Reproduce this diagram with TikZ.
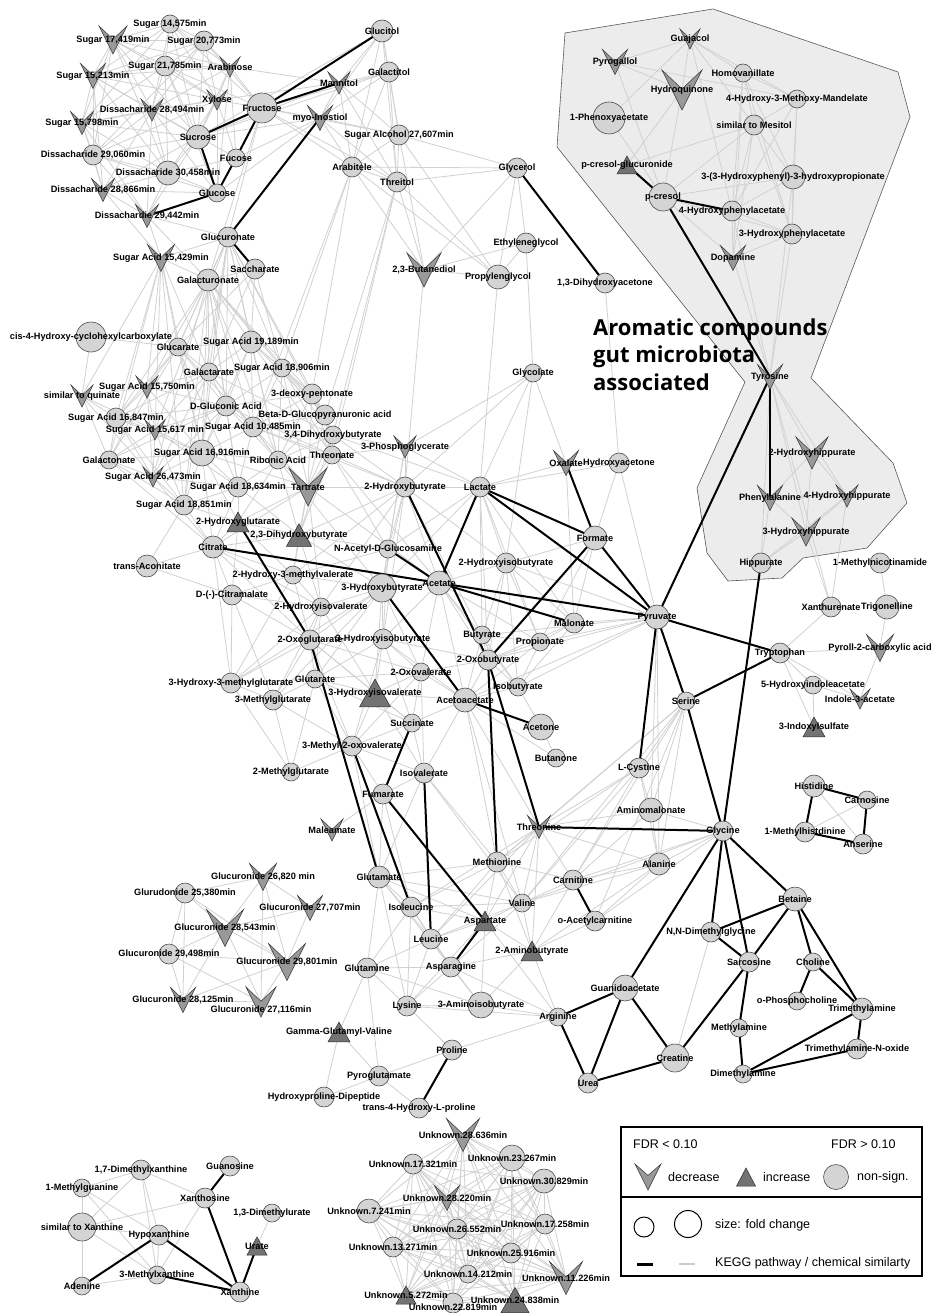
\documentclass[tikz,border=0pt]{standalone}
\usepackage{fontspec}
\newfontfamily\lblfont{Liberation Sans}
\newfontfamily\bigfont{Open Sans}
\definecolor{cfill}{gray}{0.83}
\definecolor{vfill}{gray}{0.60}
\definecolor{tfill}{gray}{0.45}
\definecolor{hullfill}{gray}{0.925}
\definecolor{gline}{gray}{0.82}

\def\clist{s14575/170/24/9/{Sugar 14,575min},s20773/204/41/10/{Sugar 20,773min},s21785/165/66/10/{Sugar 21,785min},fructose/262/108/15/{Fructose},sucrose/198/137/12/{Sucrose},fucose/236/158/9/{Fucose},d29060/93/155/10/{Dissacharide 29,060min},d30458/168/173/12/{Dissacharide 30,458min},glucose/217/193/9/{Glucose},glucuronate/228/237/10/{Glucuronate},saccharate/255/269/10/{Saccharate},galacturonate/208/280/11/{Galacturonate},glucitol/382/31/11/{Glucitol},galactitol/389/72/10/{Galactitol},sugaralc/399/135/10/{Sugar Alcohol 27,607min},arabitele/352/167/10/{Arabitele},threitol/397/182/10/{Threitol},glycerol/517/168/10/{Glycerol},ethylene/526/243/10/{Ethyleneglycol},propylene/498/277/12/{Propylenglycol},dha/605/283/10/{1,3-Dihydroxyacetone},homovan/743/73/9/{Homovanillate},hmm/797/99/9/{4-Hydroxy-3-Methoxy-Mandelate},phenoxy/609/118/16/{1-Phenoxyacetate},mesitol/754/125/10/{similar to Mesitol},hphp/793/177/12/{3-(3-Hydroxyphenyl)-3-hydroxypropionate},pcresol/663/197/14/{p-cresol},hpa4/732/211/10/{4-Hydroxyphenylacetate},hpa3/792/234/10/{3-Hydroxyphenylacetate},hippurate/761/563/10/{Hippurate},mnicot/880/563/10/{1-Methylnicotinamide},xanthurenate/831/607/10/{Xanthurenate},trigonelline/887/607/12/{Trigonelline},pyruvate/657/617/12/{Pyruvate},tryptophan/780/653/10/{Tryptophan},hydroxyacetone/619/463/10/{Hydroxyacetone},glycolate/533/373/9/{Glycolate},cis4/91/337/15/{cis-4-Hydroxy-cyclohexylcarboxylate},glucarate/178/347/9/{Glucarate},sa19189/251/342/11/{Sugar Acid 19,189min},galactarate/209/372/9/{Galactarate},sa18906/282/368/9/{Sugar Acid 18,906min},deoxypent/312/394/10/{3-deoxy-pentonate},gluconic/226/406/10/{D-Gluconic Acid},betad/325/415/10/{Beta-D-Glucopyranuronic acid},sa16847/116/418/10/{Sugar Acid 16,847min},sa10485/253/427/10/{Sugar Acid 10,485min},dhb34/333/435/9/{3,4-Dihydroxybutyrate},sa16916/202/453/13/{Sugar Acid 16,916min},galactonate/109/460/9/{Galactonate},ribonic/278/460/9/{Ribonic Acid},threonate/332/455/9/{Threonate},sa18634/238/487/10/{Sugar Acid 18,634min},sa18851/184/505/10/{Sugar Acid 18,851min},citrate/213/547/11/{Citrate},transacon/147/566/11/{trans-Aconitate},hmv/293/575/9/{2-Hydroxy-3-methylvalerate},citramalate/232/595/10/{D-(-)-Citramalate},hiv/321/607/9/{2-Hydroxyisovalerate},oxoglut/310/640/10/{2-Oxoglutarate},hbut2/405/487/10/{2-Hydroxybutyrate},lactate/480/487/10/{Lactate},formate/595/538/12/{Formate},nacetyl/388/549/9/{N-Acetyl-D-Glucosamine},hib2/506/563/10/{2-Hydroxyisobutyrate},acetate/439/583/12/{Acetate},hbut3/382/588/14/{3-Hydroxybutyrate},malonate/574/623/10/{Malonate},butyrate/482/635/9/{Butyrate},propionate/540/642/9/{Propionate},hib3/383/639/10/{3-Hydroxyisobutyrate},oxobut/488/660/10/{2-Oxobutyrate},oxoval/421/672/9/{2-Oxovalerate},glutarate/315/679/9/{Glutarate},acetoacetate/465/700/12/{Acetoacetate},isobutyrate/518/687/9/{Isobutyrate},succinate/412/723/9/{Succinate},acetone/541/727/13/{Acetone},hmg/231/683/10/{3-Hydroxy-3-methylglutarate},mglut3/273/700/10/{3-Methylglutarate},mglut2/291/772/9/{2-Methylglutarate},mov/352/746/10/{3-Methyl-2-oxovalerate},butanone/556/758/9/{Butanone},isovalerate/424/773/10/{Isovalerate},fumarate/383/794/10/{Fumarate},methionine/497/862/10/{Methionine},glutamate/379/877/11/{Glutamate},carnitine/573/880/10/{Carnitine},valine/522/903/9/{Valine},isoleucine/411/907/10/{Isoleucine},oacetyl/595/921/10/{o-Acetylcarnitine},leucine/431/939/10/{Leucine},glutamine/367/968/10/{Glutamine},asparagine/451/967/10/{Asparagine},serine/686/701/9/{Serine},hiaa/813/685/9/{5-Hydroxyindoleacetate},cystine/639/768/10/{L-Cystine},histidine/814/786/11/{Histidine},carnosine/867/800/9/{Carnosine},aminomal/651/810/12/{Aminomalonate},glycine/723/831/10/{Glycine},mhis/805/832/10/{1-Methylhistdinine},anserine/863/844/10/{Anserine},alanine/659/864/11/{Alanine},betaine/795/899/12/{Betaine},dmg/711/932/10/{N,N-Dimethylglycine},sarcosine/749/962/10/{Sarcosine},choline/813/962/9/{Choline},guanido/625/988/13/{Guanidoacetate},phoschol/797/1001/9/{o-Phosphocholine},tma/862/1009/11/{Trimethylamine},methylamine/739/1028/9/{Methylamine},tmao/857/1049/10/{Trimethylamine-N-oxide},creatine/675/1058/14/{Creatine},dimethylamine/743/1074/9/{Dimethylamine},lysine/407/1006/10/{Lysine},aib3/481/1005/13/{3-Aminoisobutyrate},arginine/558/1017/9/{Arginine},proline/452/1050/10/{Proline},pyroglut/379/1076/10/{Pyroglutamate},hpdip/324/1097/10/{Hydroxyproline-Dipeptide},hyp/419/1108/10/{trans-4-Hydroxy-L-proline},urea/588/1083/10/{Urea},g25380/185/893/10/{Glurudonide 25,380min},g29498/169/954/10/{Glucuronide 29,498min},dmx17/141/1170/10/{1,7-Dimethylxanthine},guanosine/230/1166/10/{Guanosine},mguan/82/1188/9/{1-Methylguanine},xanthosine/205/1198/10/{Xanthosine},dmu13/272/1213/9/{1,3-Dimethylurate},simxan/82/1227/14/{similar to Xanthine},hypoxanthine/159/1235/10/{Hypoxanthine},mx3/157/1275/9/{3-Methylxanthine},adenine/82/1286/9/{Adenine},xanthine/240/1292/10/{Xanthine},u23267/512/1158/13/{Unknown.23.267min},u17321/413/1164/10/{Unknown.17.321min},u30829/544/1181/12/{Unknown.30.829min},u7241/369/1211/12/{Unknown.7.241min},u17258/545/1224/10/{Unknown.17.258min},u26552/457/1229/10/{Unknown.26.552min},u13271/393/1247/10/{Unknown.13.271min},u25916/511/1253/10/{Unknown.25.916min},u14212/468/1274/9/{Unknown.14.212min},u22819/453/1303/10/{}}

\def\vlist{s17419/113/40/28/{Sugar 17,419min},arabinose/230/67/20/{Arabinose},s15213/93/76/25/{Sugar 15,213min},xylose/217/100/20/{Xylose},d28494/152/110/22/{Dissacharide 28,494min},s15798/82/123/23/{Sugar 15,798min},d28866/103/190/23/{Dissacharide 28,866min},d29442/147/216/23/{Dissachardie 29,442min},sa15429/161/258/27/{Sugar Acid 15,429min},mannitol/339/83/22/{Mannitol},myo/320/118/25/{myo-Inostiol},butanediol/424/270/34/{2,3-Butanediol},guajacol/690/39/20/{Guajacol},pyrogallol/615/62/25/{Pyrogallol},hydroquinone/682/90/40/{Hydroquinone},dopamine/733/258/25/{Dopamine},tyrosine/770/377/25/{Tyrosine},hipp2/812/453/32/{2-Hydroxyhippurate},phenylalanine/770/498/25/{Phenylalanine},hipp4/847/496/22/{4-Hydroxyhippurate},hipp3/806/532/28/{3-Hydroxyhippurate},pyroll/880/648/27/{Pyroll-2-carboxylic acid},sa15750/147/387/22/{Sugar Acid 15,750min},quinate/82/396/22/{similar to quinate},sa15617/155/430/20/{Sugar Acid 15,617 min},sa26473/153/477/20/{Sugar Acid 26,473min},tartrate/308/487/38/{Tartrate},phosphoglyc/405/447/22/{3-Phosphoglycerate},oxalate/566/463/25/{Oxalate},maleamate/332/830/22/{Maleamate},threonine/539/827/23/{Threonine},indole/860/699/20/{Indole-3-acetate},g26820/263/877/27/{Glucuronide 26,820 min},g27707/310/908/25/{Glucuronide 27,707min},g28543/225/928/37/{Glucuronide 28,543min},g29801/287/962/37/{Glucuronide 29,801min},g28125/183/1000/25/{Glucuronide 28,125min},g27116/261/1002/30/{},u28636/463/1135/33/{Unknown.28.636min},u28220/447/1198/25/{Unknown.28.220min},u11226/566/1278/33/{Unknown.11.226min}}

\def\tlist{pcg/627/165/20/{p-cresol-glucuronide},hg2/238/522/22/{2-Hydroxyglutarate},dhb23/299/535/25/{2,3-Dihydroxybutyrate},hiv3/375/693/31/{3-Hydroxyisovalerate},aspartate/485/921/22/{Aspartate},amb2/532/951/22/{2-Aminobutyrate},indoxyl/814/727/22/{3-Indoxylsulfate},ggv/339/1032/22/{Gamma-Glutamyl-Valine},urate/257/1246/20/{Urate},u5272/406/1295/20/{Unknown.5.272min},u24838/515/1300/28/{Unknown.24.838min}}

\def\ulist{u28636,u23267,u17321,u30829,u28220,u7241,u17258,u26552,u13271,u25916,u14212,u11226,u5272,u24838,u22819}

\def\glistA{s14575/s17419,s14575/s20773,s14575/s21785,s14575/arabinose,s14575/s15213,s14575/d28494,s14575/xylose,s14575/fructose,s14575/sucrose,s14575/s15798,s20773/s17419,s20773/s21785,s20773/arabinose,s20773/xylose,s20773/fructose,s20773/s15213,s20773/d28494,s20773/sucrose,s20773/d29060,s17419/s21785,s17419/s15213,s17419/s15798,s17419/d28494,s17419/d29060,s17419/d30458,s17419/sucrose,s17419/xylose,s17419/arabinose,s21785/s15213,s21785/arabinose,s21785/xylose,s21785/d28494,s21785/s15798,s21785/sucrose,s21785/fructose,s21785/d30458,s21785/glucose,arabinose/xylose,arabinose/fructose,arabinose/sucrose,arabinose/d28494,arabinose/s15213,arabinose/glucose,arabinose/fucose,arabinose/mannitol,s15213/s15798,s15213/d28494,s15213/d29060,s15213/d30458,s15213/d28866,s15213/xylose,s15213/sucrose,xylose/fructose,xylose/sucrose,xylose/d28494,xylose/glucose,xylose/fucose,xylose/s15798,xylose/d29060,xylose/d30458,d28494/s15798,d28494/sucrose,d28494/d29060,d28494/d30458,d28494/d28866,d28494/glucose,d28494/d29442,d28494/fucose,s15798/d29060,s15798/d30458,s15798/d28866,s15798/sucrose,s15798/d29442,sucrose/d29060,sucrose/d30458,sucrose/d28866,sucrose/d29442,d29060/d30458,d29060/d28866,d29060/d29442,d29060/glucose,d30458/d28866,d30458/d29442,d30458/glucose,d30458/fucose,d28866/d29442,d28866/glucose,d28866/sa15429,d29442/sa15429,d29442/galacturonate,d29442/glucuronate,fructose/galactitol,fructose/myo,fructose/arabitele,fructose/sugaralc,fructose/glucuronate,fructose/galacturonate,fructose/threitol,glucitol/galactitol,glucitol/mannitol,glucitol/myo,glucitol/sugaralc,glucitol/arabitele,glucitol/threitol,glucitol/sucrose,galactitol/mannitol,galactitol/myo,galactitol/sugaralc,galactitol/arabitele,galactitol/threitol,galactitol/sucrose,mannitol/myo,mannitol/sugaralc,mannitol/arabitele,mannitol/threitol,mannitol/sucrose,mannitol/xylose,myo/sugaralc,myo/arabitele,myo/threitol,myo/glucose,myo/fucose,myo/sucrose,sugaralc/arabitele,sugaralc/threitol,sugaralc/glycerol,sugaralc/butanediol,sugaralc/propylene,arabitele/threitol,arabitele/glycerol,arabitele/butanediol,arabitele/propylene,threitol/glycerol,threitol/butanediol,threitol/propylene,glycerol/butanediol,glycerol/propylene,glycerol/ethylene,butanediol/ethylene,butanediol/propylene,ethylene/propylene,propylene/lactate,ethylene/glycolate,butanediol/hbut2,dha/hydroxyacetone,arabitele/sa18906,arabitele/deoxypent,threitol/dhb34,threitol/threonate,arabitele/sa10485,threitol/betad}

\def\glistB{galacturonate/glucarate,galacturonate/sa19189,galacturonate/galactarate,galacturonate/sa18906,galacturonate/gluconic,galacturonate/sa10485,galacturonate/sa16916,galacturonate/ribonic,galacturonate/sa18634,galacturonate/sa15750,galacturonate/sa16847,galacturonate/deoxypent,galacturonate/betad,galacturonate/sa26473,galacturonate/sa18851,glucuronate/glucarate,glucuronate/sa19189,glucuronate/galactarate,glucuronate/gluconic,glucuronate/sa16916,glucuronate/sa18851,glucuronate/betad,glucuronate/galacturonate,glucuronate/sa15429,glucuronate/dhb34,glucuronate/sa15617,glucuronate/sa18906,glucuronate/ribonic,saccharate/galacturonate,saccharate/sa19189,saccharate/glucarate,saccharate/galactarate,saccharate/sa18906,sa15429/glucarate,sa15429/galactarate,sa15429/sa15750,sa15429/quinate,sa15429/sa16847,sa15429/galacturonate,sa15429/galactonate,sa15429/sa16916,sa15429/sa18851,sa15429/sa15617,cis4/quinate,cis4/glucarate,glucarate/sa19189,glucarate/galactarate,glucarate/sa15750,glucarate/gluconic,glucarate/sa16847,glucarate/sa16916,glucarate/sa10485,glucarate/galactonate,glucarate/sa18634,sa19189/galactarate,sa19189/sa18906,sa19189/gluconic,sa19189/deoxypent,sa19189/sa10485,sa19189/ribonic,sa19189/sa16916,sa19189/threonate,sa19189/betad,galactarate/sa18906,galactarate/sa15750,galactarate/gluconic,galactarate/sa16847,galactarate/sa15617,galactarate/sa10485,galactarate/sa16916,galactarate/sa26473,galactarate/ribonic,galactarate/dhb34,sa18906/deoxypent,sa18906/betad,sa18906/gluconic,sa18906/sa10485,sa18906/ribonic,sa18906/threonate,sa18906/tartrate,sa18906/dhb34,sa15750/quinate,sa15750/sa16847,sa15750/sa15617,sa15750/gluconic,sa15750/galactonate,sa15750/sa16916,sa15750/sa26473,quinate/sa16847,quinate/galactonate,quinate/sa15617,quinate/sa26473,deoxypent/betad,deoxypent/dhb34,deoxypent/threonate,deoxypent/sa10485,deoxypent/ribonic,deoxypent/gluconic,deoxypent/tartrate,gluconic/sa16847,gluconic/sa15617,gluconic/sa10485,gluconic/sa16916,gluconic/galactonate,gluconic/ribonic,gluconic/sa26473,gluconic/sa18634,gluconic/threonate,betad/sa10485,betad/dhb34,betad/threonate,betad/ribonic,betad/tartrate,sa16847/sa15617,sa16847/galactonate,sa16847/sa16916,sa16847/sa26473,sa16847/sa18851,sa15617/sa16916,sa15617/galactonate,sa15617/sa26473,sa15617/sa10485,sa15617/sa18634,sa15617/sa18851,sa10485/dhb34,sa10485/sa16916,sa10485/ribonic,sa10485/threonate,sa10485/sa18634,sa10485/tartrate,dhb34/threonate,dhb34/ribonic,dhb34/tartrate,dhb34/dhb23,dhb34/phosphoglyc,dhb34/hbut2,sa16916/galactonate,sa16916/ribonic,sa16916/sa26473,sa16916/sa18634,sa16916/sa18851,sa16916/tartrate,sa16916/citrate,sa16916/hg2,galactonate/sa26473,galactonate/sa18851,galactonate/citrate,ribonic/threonate,ribonic/tartrate,ribonic/sa18634,ribonic/hg2,ribonic/dhb23,threonate/tartrate,threonate/dhb23,threonate/phosphoglyc,threonate/hbut2,sa26473/sa18634,sa26473/sa18851,sa26473/citrate,tartrate/sa18634,tartrate/dhb23,tartrate/hg2,tartrate/hmv,tartrate/hiv,tartrate/hbut2,tartrate/citrate,sa18634/sa18851,sa18634/hg2,sa18634/dhb23,sa18634/citrate,sa18851/hg2,sa18851/citrate,sa18851/transacon,hg2/dhb23,hg2/citrate,hg2/hmv,hg2/citramalate,dhb23/hmv,dhb23/citrate,dhb23/hiv,dhb23/nacetyl,dhb23/hbut3,dhb23/hbut2,citrate/transacon,citrate/hmv,citrate/citramalate,citrate/hiv,citrate/oxoglut,citrate/hmg,threonate/acetate,tartrate/acetate,ribonic/hbut3,dhb34/lactate,threonate/nacetyl,sa10485/hbut2}

\def\glistC{hbut2/lactate,hbut2/phosphoglyc,hbut2/nacetyl,hbut2/hbut3,hbut2/acetate,hbut2/hib2,hbut2/hib3,hbut2/hmv,hbut2/hiv,hbut2/butyrate,phosphoglyc/lactate,phosphoglyc/glycolate,phosphoglyc/nacetyl,phosphoglyc/hbut3,glycolate/lactate,glycolate/oxalate,glycolate/hib2,glycolate/hbut2,lactate/hib2,lactate/butyrate,lactate/propionate,lactate/malonate,lactate/oxalate,lactate/hydroxyacetone,lactate/hbut3,lactate/nacetyl,lactate/oxobut,oxalate/hydroxyacetone,oxalate/malonate,hydroxyacetone/pyruvate,hydroxyacetone/formate,formate/hib2,formate/malonate,formate/propionate,nacetyl/hbut3,nacetyl/hmv,nacetyl/hib3,hib2/acetate,hib2/butyrate,hib2/propionate,hib2/malonate,hib2/oxobut,hib2/isobutyrate,hib2/pyruvate,acetate/hbut3,acetate/hib3,acetate/butyrate,acetate/propionate,acetate/oxobut,acetate/isobutyrate,acetate/acetoacetate,acetate/oxoval,hbut3/hmv,hbut3/hiv,hbut3/hib3,hbut3/oxoglut,hbut3/oxoval,hbut3/hiv3,hbut3/glutarate,hbut3/mglut3,hbut3/hmg,malonate/propionate,malonate/pyruvate,malonate/isobutyrate,malonate/oxobut,butyrate/propionate,butyrate/oxobut,butyrate/isobutyrate,butyrate/acetoacetate,butyrate/pyruvate,propionate/oxobut,propionate/isobutyrate,propionate/pyruvate,propionate/acetoacetate,hib3/oxoval,hib3/hiv3,hib3/oxoglut,hib3/glutarate,hib3/oxobut,hib3/acetoacetate,hib3/succinate,hib3/mov,oxobut/isobutyrate,oxobut/acetoacetate,oxobut/pyruvate,oxobut/oxoval,oxoglut/glutarate,oxoglut/hmg,oxoglut/mglut3,oxoglut/citramalate,oxoglut/hiv,oxoglut/mov,oxoglut/oxoval,oxoglut/hiv3,oxoglut/succinate,hmv/hiv,hmv/citramalate,hmv/oxoglut,hmv/hmg,hiv/citramalate,hiv/glutarate,hiv/hmg,hiv/mglut3,hiv/hiv3,citramalate/hmg,citramalate/mglut3,citramalate/transacon,hmg/mglut3,hmg/glutarate,hmg/mglut2,mglut3/glutarate,mglut3/mglut2,mglut3/mov,glutarate/hiv3,glutarate/oxoval,glutarate/mov,glutarate/mglut2,glutarate/succinate,hiv3/oxoval,hiv3/succinate,hiv3/mov,hiv3/isovalerate,hiv3/acetoacetate,oxoval/succinate,oxoval/acetoacetate,oxoval/isovalerate,oxoval/mov,acetoacetate/isobutyrate,acetoacetate/succinate,acetoacetate/isovalerate,acetoacetate/butanone,acetoacetate/methionine,acetoacetate/threonine,acetoacetate/valine,isobutyrate/pyruvate,isobutyrate/acetone,acetone/butanone,succinate/isovalerate,succinate/mov,mov/mglut2,mov/isovalerate,mov/fumarate,mov/glutamate,isovalerate/fumarate,isovalerate/methionine,isovalerate/valine,isovalerate/glutamate,fumarate/maleamate,fumarate/glutamate,fumarate/isoleucine,pyruvate/acetoacetate,pyruvate/alanine,pyruvate/aminomal}

\def\glistD{threonine/methionine,threonine/valine,threonine/alanine,threonine/aminomal,threonine/serine,threonine/cystine,threonine/carnitine,threonine/amb2,threonine/aspartate,threonine/isoleucine,threonine/leucine,serine/cystine,serine/aminomal,serine/alanine,serine/valine,serine/carnitine,serine/methionine,serine/oacetyl,cystine/aminomal,cystine/alanine,cystine/methionine,cystine/valine,cystine/carnitine,aminomal/alanine,aminomal/glycine,aminomal/carnitine,alanine/glycine,alanine/carnitine,alanine/valine,alanine/oacetyl,alanine/amb2,glycine/carnitine,glycine/oacetyl,glycine/valine,methionine/valine,methionine/isoleucine,methionine/leucine,methionine/aspartate,methionine/amb2,methionine/glutamate,methionine/carnitine,valine/isoleucine,valine/leucine,valine/aspartate,valine/amb2,valine/carnitine,valine/glutamate,valine/asparagine,carnitine/amb2,isoleucine/leucine,isoleucine/glutamate,isoleucine/glutamine,isoleucine/asparagine,isoleucine/lysine,isoleucine/aspartate,glutamate/glutamine,glutamate/leucine,glutamate/asparagine,glutamate/lysine,glutamate/aspartate,leucine/glutamine,leucine/asparagine,leucine/lysine,leucine/aib3,leucine/aspartate,aspartate/amb2,aspartate/lysine,aspartate/aib3,aspartate/arginine,amb2/asparagine,amb2/aib3,amb2/arginine,amb2/oacetyl,glutamine/lysine,glutamine/asparagine,glutamine/ggv,glutamine/pyroglut,glutamine/aib3,asparagine/lysine,asparagine/aib3,asparagine/arginine,lysine/aib3,lysine/proline,lysine/arginine,aib3/arginine,arginine/proline,proline/pyroglut,ggv/pyroglut,ggv/hpdip,pyroglut/hyp,pyroglut/hpdip,dmg/creatine,tryptophan/hiaa,tryptophan/indole,tryptophan/indoxyl,tryptophan/pyroll,tryptophan/xanthurenate,hiaa/indoxyl,hiaa/indole,indole/pyroll,pyroll/trigonelline,trigonelline/mnicot,xanthurenate/hipp3,xanthurenate/hipp4,xanthurenate/tyrosine,histidine/anserine,carnosine/mhis,pyrogallol/guajacol,pyrogallol/hydroquinone,pyrogallol/pcresol,pyrogallol/hmm,guajacol/homovan,guajacol/hydroquinone,guajacol/hmm,guajacol/mesitol,guajacol/phenoxy,guajacol/hpa4,homovan/hmm,homovan/mesitol,homovan/hpa4,homovan/hpa3,homovan/hphp,homovan/dopamine,hmm/mesitol,hmm/hphp,hmm/hpa3,hmm/hpa4,mesitol/pcg,mesitol/hphp,mesitol/hpa4,mesitol/hpa3,mesitol/dopamine,mesitol/pcresol,hydroquinone/pcresol,hydroquinone/pcg,phenoxy/pcresol,hphp/pcresol,hphp/hpa4,hphp/hpa3,hphp/tyrosine,pcresol/hpa3,pcresol/dopamine,hpa4/hpa3,hpa4/dopamine,hpa4/tyrosine,hpa3/dopamine,hpa3/tyrosine,dopamine/tyrosine,tyrosine/hipp2,tyrosine/hipp4,tyrosine/hipp3,tyrosine/hippurate,hipp2/phenylalanine,hipp2/hipp4,hipp2/hipp3,phenylalanine/hipp3,phenylalanine/hippurate,phenylalanine/hipp4,hipp4/hipp3,hipp4/hippurate,hipp3/hippurate,g26820/g25380,g26820/g27707,g26820/g28543,g26820/g29801,g26820/g27116,g25380/g28543,g25380/g29498,g25380/g28125,g25380/g29801,g28543/g29498,g28543/g29801,g28543/g28125,g28543/g27116,g29498/g28125,g29498/g29801,g29498/g27116,g27707/g29801,g27707/g28543,g29801/g28125,g29801/g27116,g28125/g27116,dmx17/mguan,dmx17/simxan,dmx17/hypoxanthine,dmx17/mx3,dmx17/xanthosine,mguan/simxan,mguan/hypoxanthine,mguan/mx3,simxan/xanthosine,simxan/hypoxanthine,simxan/mx3,simxan/adenine,hypoxanthine/mx3,mx3/xanthosine,mx3/adenine,dmu13/urate}

\def\klist{fructose/glucitol,fructose/mannitol,fructose/sucrose,fructose/fucose,sucrose/glucose,fucose/glucose,glucose/d29442,glucuronate/myo,glucuronate/saccharate,glycerol/dha,pcg/pcresol,pcresol/hpa4,pcresol/tyrosine,tyrosine/phenylalanine,tyrosine/pyruvate,hippurate/glycine,hg2/oxoglut,oxoglut/glutamate,citrate/acetate,hbut2/oxobut,lactate/acetate,lactate/formate,lactate/pyruvate,oxalate/formate,formate/pyruvate,formate/oxobut,nacetyl/acetate,acetate/pyruvate,acetate/malonate,hbut3/acetoacetate,acetoacetate/acetone,oxobut/methionine,oxobut/threonine,mov/isoleucine,succinate/fumarate,isovalerate/leucine,fumarate/aspartate,aspartate/asparagine,threonine/glycine,carnitine/oacetyl,pyruvate/serine,pyruvate/cystine,pyruvate/tryptophan,tryptophan/serine,serine/glycine,glycine/betaine,glycine/dmg,glycine/sarcosine,glycine/guanido,betaine/dmg,betaine/sarcosine,betaine/choline,betaine/tma,dmg/sarcosine,sarcosine/methylamine,sarcosine/creatine,methylamine/dimethylamine,dimethylamine/tma,dimethylamine/tmao,tma/tmao,choline/tma,choline/phoschol,histidine/carnosine,carnosine/anserine,anserine/mhis,mhis/histidine,guanido/creatine,guanido/arginine,guanido/urea,arginine/urea,urea/creatine,proline/hyp,guanosine/xanthosine,xanthosine/xanthine,urate/xanthine,hypoxanthine/xanthine,hypoxanthine/adenine,mx3/xanthine}

\begin{document}
\begin{tikzpicture}[x=1pt,y=-1pt,
  gedge/.style={draw=gline,line width=0.8pt},
  kedge/.style={draw=black,line width=2pt},
  cstyle/.style={fill=cfill,draw=gray!60!black,line width=0.6pt},
  vstyle/.style={fill=vfill,draw=gray!45!black,line width=0.5pt},
  tstyle/.style={fill=tfill,draw=gray!35!black,line width=0.5pt},
  lbl/.style={font=\lblfont\bfseries\fontsize{9.2}{10}\selectfont,inner sep=0pt},
  legtext/.style={font=\lblfont\fontsize{12.5}{14}\selectfont,inner sep=0pt}]
\useasboundingbox (0,0) rectangle (933,1313);
\fill[white] (0,0) rectangle (933,1313);
% coordinates
\foreach \n/\x/\y/\r/\l in \clist {\coordinate (\n) at (\x,\y);}
\foreach \n/\x/\y/\r/\l in \vlist {\coordinate (\n) at (\x,\y);}
\foreach \n/\x/\y/\r/\l in \tlist {\coordinate (\n) at (\x,\y);}
% hull
\filldraw[fill=hullfill,draw=gray!70!black,line width=0.6pt] (565,33) -- (713,9) -- (898,72) -- (910,117) -- (811,378) -- (893,463) -- (907,503) -- (867,548) -- (803,558) -- (782,578) -- (728,581) -- (707,553) -- (697,488) -- (745,382) -- (557,147) -- cycle;
% gray edges
\foreach \a/\b in \glistA {\draw[gedge] (\a) -- (\b);}
\foreach \a/\b in \glistB {\draw[gedge] (\a) -- (\b);}
\foreach \a/\b in \glistC {\draw[gedge] (\a) -- (\b);}
\foreach \a/\b in \glistD {\draw[gedge] (\a) -- (\b);}
\foreach \a [count=\i] in \ulist {\foreach \b [count=\j] in \ulist {\ifnum\j>\i \draw[gedge] (\a) -- (\b);\fi}}
% KEGG edges
\foreach \a/\b in \klist {\draw[kedge] (\a) -- (\b);}
% shapes
\foreach \n/\x/\y/\r/\l in \clist {\filldraw[cstyle] (\n) circle[radius=\r pt];}
\foreach \n/\x/\y/\w/\l in \vlist {\pgfmathsetmacro\h{\w/2}
  \filldraw[vstyle] (\x-\h,\y-\h) -- (\x,\y-0.05*\h) -- (\x+\h,\y-\h) -- (\x,\y+\h) -- cycle;}
\foreach \n/\x/\y/\w/\l in \tlist {\pgfmathsetmacro\h{\w/2}
  \filldraw[tstyle] (\x-\h,\y+0.9*\h) -- (\x+\h,\y+0.9*\h) -- (\x,\y-0.9*\h) -- cycle;}
% labels
\foreach \n/\x/\y/\r/\l in \clist {\node[lbl] at (\n) {\l};}
\foreach \n/\x/\y/\r/\l in \vlist {\node[lbl] at (\n) {\l};}
\foreach \n/\x/\y/\r/\l in \tlist {\node[lbl] at (\n) {\l};}
\node[lbl] (g27116lbl) at ([yshift=-8pt]g27116) {Glucuronide 27,116min};
\node[lbl] (u22819lbl) at ([yshift=-4pt]u22819) {Unknown.22.819min};
% title
\node[anchor=base west,align=left,inner sep=0pt,font=\bigfont\bfseries\fontsize{22}{27.5}\selectfont] (title) at (593,390) {Aromatic compounds\\gut microbiota\\associated};
% legend
\draw[line width=2.2pt] (621,1127) rectangle (922,1276);
\draw[line width=2.2pt] (621,1197) -- (922,1197);
\node[legtext,anchor=west] (fdrlt) at (633,1144) {FDR < 0.10};
\node[legtext,anchor=west] (fdrgt) at (831,1144) {FDR > 0.10};
\filldraw[vstyle] (635,1164) -- (648,1175.4) -- (661,1164) -- (648,1190) -- cycle;
\node[legtext,anchor=west] (ldec) at (668,1177) {decrease};
\filldraw[tstyle] (736.5,1186) -- (755.5,1186) -- (746,1168) -- cycle;
\node[legtext,anchor=west] (linc) at (763,1177) {increase};
\filldraw[cstyle] (836,1177) circle[radius=12.5pt];
\node[legtext,anchor=west] (lns) at (857,1177) {non-sign.};
\draw[line width=1pt] (644,1227) circle[radius=10pt];
\draw[line width=1pt] (688,1224) circle[radius=13.5pt];
\node[legtext,anchor=west] (lsize) at (715,1225) {size: fold change};
\draw[line width=3pt] (637,1264) -- (653,1264);
\draw[draw=gray!40,line width=1.5pt] (679,1264) -- (695,1264);
\node[legtext,anchor=west] (lkegg) at (715,1263) {KEGG pathway / chemical similarty};
\end{tikzpicture}
\end{document}
